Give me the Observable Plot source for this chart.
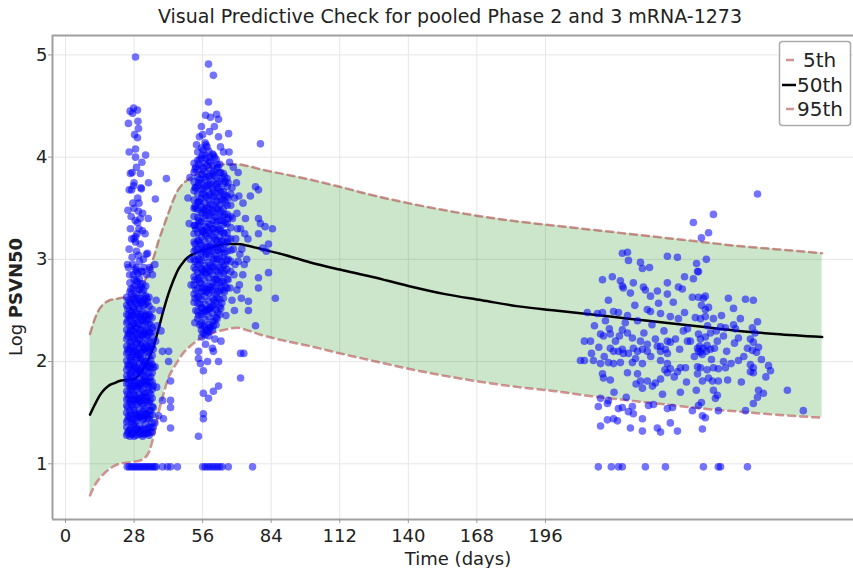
<!DOCTYPE html>
<html><head><meta charset="utf-8">
<script src="https://cdn.jsdelivr.net/npm/d3@7"></script>
<script src="https://cdn.jsdelivr.net/npm/@observablehq/plot@0.6"></script>
<style>body{margin:0;background:#fff;}</style>
</head><body><div id="chart"></div>
<script>
const titleText = "Visual Predictive Check for pooled Phase 2 and 3 mRNA-1273";
const xTicks = [0, 28, 56, 84, 112, 140, 168, 196];
const yTicks = [1, 2, 3, 4, 5];
const legendLabels = ["5th", "50th", "95th"];

// percentile curves (days, log PSVN50)
const pDays = [10,12,14,16,18,20,22,25,28,30,32,34,36,38,40,42,44,46,48,50,53,56,60,65,70,75,80,90,100,112,125,140,155,170,185,200,215,230,245,260,275,290,309];
const p5  = [0.69,0.79,0.86,0.91,0.95,0.98,1.00,1.01,1.02,1.03,1.05,1.11,1.27,1.50,1.68,1.84,1.93,2.01,2.08,2.13,2.19,2.24,2.28,2.31,2.33,2.30,2.26,2.20,2.15,2.08,2.01,1.93,1.86,1.80,1.75,1.71,1.66,1.62,1.58,1.54,1.51,1.48,1.45];
const p50 = [1.48,1.58,1.67,1.73,1.77,1.79,1.81,1.82,1.83,1.87,1.94,2.03,2.15,2.32,2.50,2.66,2.79,2.90,2.97,3.02,3.06,3.09,3.12,3.15,3.15,3.13,3.10,3.04,2.97,2.90,2.83,2.74,2.66,2.60,2.54,2.50,2.46,2.42,2.38,2.34,2.30,2.27,2.24];
const p95 = [2.27,2.42,2.52,2.57,2.60,2.61,2.62,2.63,2.64,2.68,2.77,2.88,3.02,3.18,3.32,3.45,3.58,3.68,3.74,3.78,3.83,3.87,3.91,3.93,3.93,3.91,3.88,3.83,3.78,3.71,3.63,3.55,3.48,3.42,3.37,3.33,3.29,3.25,3.21,3.17,3.13,3.10,3.06];

// observed data, day-29 visit: dense columns [day, values]
const day29Columns = [
  [25.0,[1.28,1.36,1.41,1.50,1.57,1.63,1.71,1.78,1.86,1.92,2.01,2.08,2.15,2.22,2.31,2.38,2.46,2.55,2.63]],
  [25.4,[1.30,1.43,1.55,1.68,1.83,1.97,2.12,2.25,2.40,2.52]],
  [25.7,[1.32,1.47,1.64,1.79,1.95,2.09,2.28,2.45,2.60]],
  [26.3,[1.27,1.33,1.45,1.52,1.60,1.67,1.74,1.82,1.89,1.97,2.04,2.12,2.19,2.27,2.34,2.42,2.50,2.58,2.68,2.77]],
  [26.7,[1.35,1.48,1.62,1.76,1.87,2.01,2.15,2.30,2.44,2.57,2.71]],
  [27.0,[1.29,1.41,1.58,1.73,1.90,2.05,2.20,2.35,2.49,2.66]],
  [27.6,[1.30,1.38,1.44,1.55,1.62,1.70,1.76,1.84,1.93,1.99,2.07,2.14,2.24,2.30,2.37,2.45,2.53,2.61,2.72,2.85]],
  [28.0,[1.27,1.40,1.52,1.67,1.81,1.96,2.09,2.22,2.37,2.51,2.64,2.80]],
  [28.3,[1.33,1.48,1.63,1.78,1.94,2.11,2.29,2.43,2.59,2.74]],
  [28.9,[1.28,1.35,1.42,1.49,1.58,1.65,1.72,1.80,1.87,1.95,2.02,2.10,2.17,2.26,2.33,2.40,2.48,2.57,2.66,2.79,2.92]],
  [29.3,[1.34,1.47,1.63,1.76,1.89,2.04,2.18,2.32,2.46,2.62,2.78]],
  [29.6,[1.31,1.45,1.60,1.75,1.91,2.07,2.23,2.38,2.55,2.71,2.86]],
  [30.2,[1.29,1.37,1.46,1.53,1.61,1.68,1.77,1.83,1.91,1.98,2.06,2.13,2.21,2.28,2.36,2.44,2.52,2.60,2.70,2.81]],
  [30.6,[1.33,1.49,1.64,1.76,1.90,2.03,2.17,2.31,2.46,2.62,2.76]],
  [30.9,[1.30,1.46,1.62,1.79,1.93,2.09,2.26,2.42,2.57,2.73]],
  [31.5,[1.27,1.34,1.43,1.51,1.59,1.66,1.73,1.81,1.88,1.96,2.03,2.11,2.18,2.25,2.35,2.41,2.49,2.59,2.67,2.76,2.88]],
  [31.9,[1.29,1.44,1.57,1.70,1.86,2.00,2.14,2.29,2.40,2.55,2.70]],
  [32.2,[1.33,1.49,1.65,1.81,1.97,2.12,2.27,2.44,2.61]],
  [32.8,[1.30,1.39,1.47,1.54,1.62,1.69,1.78,1.85,1.92,2.00,2.09,2.16,2.23,2.32,2.39,2.47,2.56,2.64,2.74]],
  [33.2,[1.34,1.49,1.65,1.80,1.96,2.13,2.30,2.45,2.62]],
  [33.5,[1.30,1.45,1.61,1.77,1.94,2.10,2.26,2.41,2.58]],
  [34.1,[1.28,1.36,1.44,1.52,1.60,1.70,1.75,1.84,1.90,1.98,2.05,2.14,2.20,2.29,2.37,2.46,2.54,2.63]],
  [34.5,[1.31,1.47,1.62,1.80,1.95,2.12,2.28,2.44]],
  [34.8,[1.35,1.52,1.68,1.85,2.01,2.18,2.36]],
  [35.4,[1.31,1.40,1.48,1.56,1.64,1.73,1.80,1.89,1.97,2.06,2.15,2.24,2.33,2.43,2.51]],
  [35.8,[1.36,1.55,1.76,1.94,2.12,2.30]]
];
// day-29 visit: sparse points [day, value]
const day29Scatter = [
  [28.6,4.98],[27.8,4.48],[29.4,4.46],[27.4,4.43],[25.7,4.33],[29.8,4.28],[28.2,4.22],[29.4,4.19],[28.6,4.08],[28.6,4.00],
  [32.7,4.02],[26.5,3.84],[30.6,3.84],[27.8,3.72],[27.0,3.68],[31.0,3.69],[33.9,3.75],[36.7,3.59],[41.2,3.79],[29.8,3.47],
  [29.4,3.36],[31.4,3.28],[28.6,3.22],[28.6,3.17],[29.8,3.04],[33.5,3.06],[25.7,2.92],[28.6,2.90],[31.0,2.88],[34.3,2.92],
  [25.3,2.95],[26.0,3.10],[27.2,3.02],[28.0,3.20],[29.0,3.08],[30.5,3.15],[31.8,3.00],[33.0,3.05],[34.5,2.90],[26.5,3.30],
  [28.5,3.38],[30.0,3.30],[31.5,3.45],[27.5,3.55],[29.5,3.60],[26.0,3.68],[28.0,3.75],[32.5,3.25],[33.8,3.40],[35.5,2.85],
  [36.5,2.95],[25.5,3.48],[30.8,3.70],
  [26.2,2.85],[27.4,2.95],[29.0,2.88],[30.2,2.98],[32.0,2.92],[33.2,2.85],[27.0,3.20],[29.2,3.25],[30.5,3.40],[26.8,3.42],
  [28.0,3.50],[30.0,3.55],[27.2,3.85],[29.0,3.90],[26.0,4.05],[31.2,3.95],[29.6,4.35],[26.4,4.45],
  [39.6,2.10],[42.1,2.10],[42.1,2.00],[42.9,1.81],[39.6,1.62],[42.9,1.62],[42.9,1.55],[40.0,1.44],[42.9,1.35],[38.0,1.47],
  [37.5,2.35],[38.5,2.50],[36.8,2.20],[37.2,1.75],[36.5,1.40],[37.0,2.60],[39.0,2.30],[36.6,1.95]
];

// day-57 visit: dense columns
const day57Columns = [
  [52.5,[2.58,2.66,2.75,2.83,2.92,3.00,3.08,3.17,3.25,3.33,3.42,3.50,3.58,3.67,3.76,3.85,3.94]],
  [52.9,[2.62,2.80,2.98,3.15,3.33,3.52,3.70,3.88]],
  [53.2,[2.50,2.70,2.90,3.10,3.30,3.50,3.70,3.90]],
  [54.0,[2.42,2.49,2.57,2.64,2.72,2.80,2.87,2.95,3.03,3.10,3.18,3.26,3.33,3.41,3.49,3.56,3.64,3.72,3.80,3.88,3.97,4.05]],
  [54.4,[2.45,2.63,2.82,3.00,3.19,3.38,3.56,3.75,3.93]],
  [54.8,[2.36,2.56,2.77,2.97,3.16,3.36,3.57,3.78,3.98]],
  [55.5,[2.31,2.38,2.46,2.53,2.61,2.68,2.76,2.84,2.91,2.99,3.06,3.14,3.22,3.29,3.37,3.45,3.52,3.60,3.68,3.75,3.83,3.91,3.99,4.09]],
  [55.9,[2.35,2.52,2.72,2.90,3.10,3.27,3.46,3.64,3.83,4.02]],
  [56.2,[2.28,2.48,2.69,2.88,3.08,3.28,3.49,3.69,3.89,4.07]],
  [57.0,[2.26,2.34,2.41,2.49,2.56,2.64,2.72,2.79,2.87,2.94,3.02,3.10,3.17,3.25,3.32,3.40,3.48,3.55,3.63,3.71,3.78,3.86,3.94,4.02,4.14]],
  [57.4,[2.31,2.50,2.68,2.86,3.05,3.23,3.43,3.61,3.80,3.99,4.12]],
  [57.8,[2.30,2.51,2.71,2.91,3.12,3.31,3.51,3.72,3.92,4.10]],
  [58.5,[2.29,2.36,2.44,2.51,2.59,2.67,2.74,2.82,2.89,2.97,3.05,3.12,3.20,3.28,3.35,3.43,3.50,3.58,3.66,3.73,3.81,3.89,3.96,4.06]],
  [58.9,[2.33,2.52,2.70,2.88,3.07,3.26,3.45,3.63,3.82,4.00]],
  [59.2,[2.33,2.53,2.73,2.94,3.13,3.34,3.54,3.74,3.95]],
  [60.0,[2.31,2.39,2.47,2.54,2.62,2.69,2.77,2.85,2.92,3.00,3.08,3.15,3.23,3.30,3.38,3.46,3.53,3.61,3.69,3.76,3.84,3.92,4.03]],
  [60.4,[2.35,2.55,2.73,2.93,3.11,3.30,3.48,3.67,3.86,4.02]],
  [60.8,[2.40,2.60,2.80,3.01,3.21,3.41,3.62,3.82,4.00]],
  [61.5,[2.36,2.43,2.51,2.58,2.66,2.74,2.81,2.89,2.96,3.04,3.12,3.19,3.27,3.34,3.42,3.50,3.57,3.65,3.73,3.80,3.88,3.98]],
  [61.9,[2.42,2.62,2.80,3.00,3.18,3.37,3.56,3.74,3.93]],
  [62.2,[2.48,2.68,2.88,3.09,3.29,3.49,3.70,3.90]],
  [63.0,[2.46,2.54,2.61,2.69,2.77,2.84,2.92,3.00,3.07,3.15,3.22,3.30,3.38,3.45,3.53,3.61,3.68,3.76,3.85,3.93]],
  [63.4,[2.52,2.72,2.90,3.10,3.28,3.47,3.66,3.85]],
  [63.8,[2.57,2.78,2.98,3.18,3.38,3.59,3.79]],
  [64.5,[2.62,2.70,2.78,2.86,2.94,3.02,3.10,3.18,3.26,3.34,3.42,3.50,3.58,3.66,3.74,3.84]],
  [64.9,[2.68,2.88,3.06,3.25,3.44,3.63,3.81]],
  [65.2,[2.74,2.95,3.15,3.36,3.56,3.76]],
  [66.0,[2.72,2.81,2.90,2.99,3.08,3.17,3.26,3.35,3.44,3.53,3.62,3.71,3.79]],
  [66.4,[2.80,3.00,3.20,3.40,3.60,3.75]],
  [67.5,[2.88,2.98,3.09,3.20,3.31,3.42,3.53,3.64]]
];
const day57Scatter = [
  [58.4,4.91],[60.4,4.80],[58.4,4.54],[57.2,4.41],[59.2,4.39],[61.7,4.42],[62.5,4.37],[66.6,4.23],[79.6,4.13],[54.7,4.20],
  [56.0,4.22],[58.8,4.25],[62.5,4.20],[63.3,4.10],[64.5,4.05],[53.5,4.12],[55.5,4.30],[60.8,4.30],
  [50.5,3.35],[51.0,3.00],[50.0,3.60],[51.3,2.75],[50.8,3.80],
  [77.6,3.71],[78.8,3.68],[75.5,3.62],[79.6,3.35],[81.5,3.32],[84.5,3.30],[80.5,3.11],[82.0,3.08],[78.8,3.40],[78.8,3.25],
  [82.9,3.15],[78.8,2.82],[82.9,2.87],[78.8,2.72],[85.7,2.62],[74.7,2.59],[74.7,2.50],[77.6,2.35],
  [69.0,3.60],[70.0,3.45],[71.5,3.30],[69.5,3.20],[72.0,3.10],[70.5,2.98],[68.8,2.85],[71.0,2.75],[73.0,2.95],[72.5,3.55],
  [69.8,3.75],[68.5,3.90],[70.5,3.85],[73.5,3.40],[74.5,3.20],[71.8,2.62],[69.0,2.50],
  [67.0,3.95],[68.0,3.70],[68.2,3.40],[68.6,3.10],[69.2,2.95],[70.2,3.30],[70.8,3.62],[71.2,3.05],[72.4,2.85],[73.2,3.25],
  [67.2,2.72],[68.0,2.60],[66.8,4.05],[70.0,2.70],[74.0,3.00],
  [71.5,2.08],[72.8,2.08],[71.5,1.84],[54.3,1.27],[56.3,1.49],[56.3,1.44],[60.4,1.71],[62.5,1.76],[58.4,1.64],[56.3,1.69],
  [56.3,1.91],[58.0,2.00],[60.4,2.10],[54.3,2.10],[54.3,2.03],[62.5,2.00],[60.0,2.13],[57.2,2.17],[55.1,1.98],[58.5,2.25],
  [61.0,2.22],[55.6,2.24],[63.5,2.20],[52.8,2.38],[65.5,2.45]
];

// late visit (about day 209 onward)
const lateScatter = [
  [282.6,3.64],[264.6,3.44],[256.4,3.36],[262.6,3.26],[259.7,3.21],
  [227.4,3.06],[229.5,3.07],[229.9,2.99],[234.8,2.97],[235.6,2.91],[238.5,2.92],
  [245.8,3.03],[249.9,3.02],[257.7,2.96],[261.7,3.00],[258.5,2.88],
  [219.3,2.80],[223.3,2.83],[226.6,2.79],[227.4,2.74],[227.8,2.72],[230.7,2.67],[231.9,2.77],
  [236.0,2.73],[236.8,2.70],[238.9,2.64],[241.7,2.69],[245.8,2.77],[245.8,2.66],
  [250.3,2.73],[251.9,2.71],[252.8,2.83],[256.4,2.81],[258.1,2.88],
  [256.0,2.63],[258.5,2.63],[260.5,2.62],[261.3,2.64],
  [259.7,2.55],[262.6,2.53],[261.3,2.51],
  [270.7,2.62],[277.7,2.61],[280.9,2.60],[272.8,2.52],
  [221.7,2.60],[213.1,2.48],[217.2,2.47],[219.3,2.48],[223.8,2.49],[225.8,2.48],[229.5,2.45],[233.6,2.40],
  [237.6,2.51],[238.9,2.49],[243.0,2.47],[247.0,2.44],[250.3,2.42],[254.0,2.32],[257.2,2.43],[259.3,2.42],[261.3,2.44],[264.6,2.42],
  [267.5,2.34],[269.5,2.33],[272.8,2.36],[273.6,2.32],[280.5,2.33],[282.6,2.39],
  [274.8,2.23],[279.7,2.22],[280.9,2.19],
  [222.1,2.32],[227.4,2.31],[218.5,2.27],[219.7,2.25],[222.5,2.27],
  [211.9,2.20],[214.4,2.20],[229.5,2.28],[231.5,2.23],[234.8,2.20],[237.6,2.17],
  [240.9,2.22],[243.0,2.15],[245.8,2.20],[247.0,2.19],[249.1,2.22],
  [252.3,2.30],[254.0,2.20],[258.5,2.27],[259.3,2.22],[261.3,2.24],[263.4,2.28],[266.2,2.20],[268.7,2.25],
  [222.5,2.13],[223.8,2.10],[225.8,2.10],[227.4,2.12],[227.8,2.08],[229.9,2.08],
  [231.9,2.13],[233.6,2.10],[235.6,2.12],[237.6,2.10],
  [241.7,2.15],[243.0,2.10],[245.0,2.12],[245.8,2.08],
  [258.1,2.13],[258.5,2.10],[259.3,2.09],[260.5,2.13],[261.7,2.10],[263.4,2.12],[265.0,2.13],
  [259.0,2.15],[260.0,2.07],[262.0,2.16],
  [278.5,2.13],[280.5,2.11],[282.2,2.09],[283.0,2.14],
  [210.3,2.01],[211.9,2.01],[215.6,2.01],[218.5,1.98],[221.7,1.99],[223.8,1.98],[226.6,1.99],
  [231.5,1.99],[235.6,1.98],[243.0,2.01],[245.8,1.98],[247.0,1.93],[251.1,1.94],[253.2,1.94],
  [258.1,1.95],[259.3,1.94],[264.6,1.94],[266.6,1.93],[268.7,2.00],[269.5,1.94],[274.8,2.01],[279.7,1.97],[280.9,1.94],[287.1,1.96],[287.9,1.91],
  [219.3,1.88],[219.7,1.84],[222.5,1.82],[229.5,1.89],[233.6,1.88],[234.8,1.81],[237.6,1.81],[240.9,1.79],[243.0,1.83],
  [245.8,1.89],[249.9,1.90],[258.1,1.88],[260.1,1.81],[262.6,1.84],[264.2,1.81],[266.6,1.81],[279.7,1.90],[280.9,1.89],
  [235.6,1.74],[239.7,1.76],[243.8,1.68],[251.1,1.70],[264.6,1.72],[266.2,1.67],[265.4,1.64],[283.0,1.72],[285.0,1.69],[282.6,1.65],[294.8,1.72],
  [218.5,1.64],[221.3,1.59],[221.7,1.62],[217.6,1.56],
  [225.8,1.54],[227.4,1.55],[229.9,1.51],[231.5,1.56],[231.9,1.49],
  [221.3,1.43],[223.8,1.44],[225.4,1.42],[235.6,1.44],[238.1,1.57],[240.1,1.58],[245.8,1.54],[247.9,1.55],
  [256.0,1.52],[258.5,1.57],[259.7,1.60],[260.1,1.47],[261.3,1.45],[266.6,1.52],[277.7,1.52],[280.9,1.59],[301.3,1.52],
  [218.5,1.37],[230.7,1.35],[235.6,1.32],[241.7,1.35],[243.0,1.31],[249.9,1.32],[247.0,1.40],[260.1,1.34],
  [216.0,2.35],[220.5,2.40],[224.6,2.20],[228.6,2.38],[232.5,2.55],[236.2,2.28],[239.5,2.36],[242.2,2.57],[244.4,2.30],[248.2,2.58],
  [250.8,2.12],[252.8,2.48],[255.2,2.20],[256.8,2.05],[262.2,2.35],[263.8,2.02],[265.8,2.30],[267.9,2.45],[270.0,2.10],[271.8,1.98],
  [273.2,2.18],[275.6,2.42],[277.0,2.05],[281.6,2.28],[284.2,2.02],[214.8,2.08],[217.8,2.14],[220.0,2.05],[226.2,2.25],[232.8,2.03],
  [239.0,2.05],[244.8,1.92],[248.6,1.85],[253.6,1.80],[257.6,1.72],[262.0,1.92],[270.4,1.82],[276.0,1.80],[286.0,1.85],[224.0,1.70],
  [229.0,1.65],[233.0,1.78]
];

// samples below the limit of quantification
const lloqValue = 0.97;
const lloqDays = [
  25.2,26.0,26.8,27.6,28.4,29.2,30.0,30.8,31.6,32.4,33.2,34.0,34.8,35.6,36.4,37.0,39.6,41.6,42.9,45.7,
  56.0,57.0,58.0,59.0,60.0,61.0,62.0,63.0,64.0,66.5,76.4,
  217.6,222.9,225.8,227.4,236.8,245.0,260.5,266.6,267.5,278.5
];

// ---- build tables ----
const pts = [];
for (const [d, vs] of day29Columns) for (const v of vs) pts.push({day: d, value: v});
for (const [d, v] of day29Scatter) pts.push({day: d, value: v});
for (const [d, vs] of day57Columns) for (const v of vs) pts.push({day: d, value: v});
for (const [d, v] of day57Scatter) pts.push({day: d, value: v});
for (const [d, v] of lateScatter) pts.push({day: d, value: v});
for (const d of lloqDays) pts.push({day: d, value: lloqValue});
const band = pDays.map((d, i) => ({day: d, lo: p5[i], mid: p50[i], hi: p95[i]}));

const xMin = -5.31, xMax = 321.8, yMin = 0.455, yMax = 5.19;
const dashColor = "#a52a2a";

const svg = Plot.plot({
  width: 853, height: 568,
  marginTop: 35, marginBottom: 49, marginLeft: 52, marginRight: 0,
  x: {domain: [xMin, xMax]},
  y: {domain: [yMin, yMax]},
  style: {fontFamily: "DejaVu Sans", fontSize: "18px", color: "#222", background: "#fff", overflow: "visible"},
  marks: [
    Plot.ruleX(xTicks, {stroke: "#e6e6e6", strokeWidth: 1}),
    Plot.ruleY(yTicks, {stroke: "#e6e6e6", strokeWidth: 1}),
    Plot.areaY(band, {x: "day", y1: "lo", y2: "hi", fill: "#008000", fillOpacity: 0.2, curve: "monotone-x"}),
    Plot.line(band, {x: "day", y: "lo", stroke: dashColor, strokeOpacity: 0.5, strokeWidth: 2.5, strokeDasharray: "7,5", curve: "monotone-x"}),
    Plot.line(band, {x: "day", y: "hi", stroke: dashColor, strokeOpacity: 0.5, strokeWidth: 2.5, strokeDasharray: "7,5", curve: "monotone-x"}),
    Plot.line(band, {x: "day", y: "mid", stroke: "#000", strokeWidth: 2.5, curve: "monotone-x"}),
    Plot.dot(pts, {x: "day", y: "value", r: 3.8, fill: "#0000ff", fillOpacity: 0.55}),
    Plot.ruleX([xMin], {stroke: "#a0a0a0", strokeWidth: 2}),
    Plot.ruleY([yMin, yMax], {stroke: "#a0a0a0", strokeWidth: 2}),
    Plot.axisX({ticks: xTicks, tickSize: 4, tickPadding: 6, label: null, tickFormat: d => String(d), stroke: "#999"}),
    Plot.axisY({ticks: yTicks, tickSize: 4, tickPadding: 1, label: null, tickFormat: d => String(d), stroke: "#999"})
  ]
});

const s = d3.select(svg);
s.append("text").attr("x", 450).attr("y", 23).attr("text-anchor", "middle")
  .attr("font-size", 19).attr("fill", "#222").text(titleText);
s.append("text").attr("x", 458).attr("y", 565).attr("text-anchor", "middle")
  .attr("font-size", 18).attr("fill", "#222").text("Time (days)");
const yl = s.append("text").attr("transform", "translate(22,297) rotate(-90)")
  .attr("text-anchor", "middle").attr("font-size", 18).attr("fill", "#222");
yl.append("tspan").text("Log ");
yl.append("tspan").attr("font-weight", "bold").text("PSVN50");

// legend
const lg = s.append("g");
lg.append("rect").attr("x", 779.5).attr("y", 41.5).attr("width", 71).attr("height", 84)
  .attr("rx", 3).attr("fill", "#fff").attr("fill-opacity", 0.85).attr("stroke", "#aaa").attr("stroke-width", 1.5);
const rows = [60, 85, 109];
lg.append("line").attr("x1", 786).attr("x2", 794).attr("y1", rows[0]).attr("y2", rows[0])
  .attr("stroke", dashColor).attr("stroke-opacity", 0.5).attr("stroke-width", 2.5);
lg.append("line").attr("x1", 782).attr("x2", 796).attr("y1", rows[1]).attr("y2", rows[1])
  .attr("stroke", "#000").attr("stroke-width", 2.5);
lg.append("line").attr("x1", 786).attr("x2", 794).attr("y1", rows[2]).attr("y2", rows[2])
  .attr("stroke", dashColor).attr("stroke-opacity", 0.5).attr("stroke-width", 2.5);
const tx = [803, 797, 797];
legendLabels.forEach((t, i) => {
  lg.append("text").attr("x", tx[i]).attr("y", rows[i]).attr("dy", "0.36em")
    .attr("text-anchor", "start").attr("font-size", 20).attr("fill", "#222").text(t);
});

document.getElementById("chart").appendChild(svg);
</script>
</body></html>
